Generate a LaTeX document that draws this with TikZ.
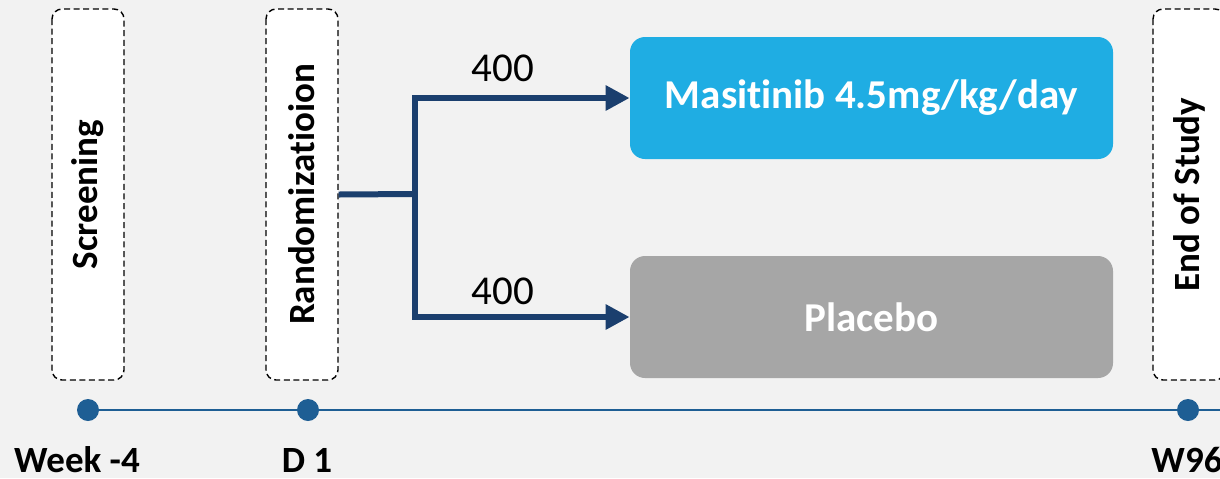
\documentclass[tikz,border=0pt]{standalone}
\usepackage{fontspec}
\setmainfont{Carlito}[Ligatures={NoCommon}]
\usetikzlibrary{arrows.meta}

\definecolor{bgcol}{HTML}{F2F2F2}
\definecolor{armblue}{HTML}{1FADE3}
\definecolor{armgray}{HTML}{A6A6A6}
\definecolor{linknavy}{HTML}{1B3F6E}
\definecolor{timeblue}{HTML}{1E5E94}

\tikzset{
  phasebox/.style={draw, dash pattern=on 3pt off 1.8pt, line width=0.7pt, fill=white,
    rounded corners=5pt, rotate=90, minimum width=185.5pt, minimum height=36pt,
    font=\fontsize{18.5}{20}\selectfont\bfseries},
  armbox/.style={rounded corners=7.5pt, minimum width=241.5pt, minimum height=61pt,
    text=white, font=\fontsize{20.5}{22}\selectfont\bfseries},
  tick/.style={circle, fill=timeblue, inner sep=0pt, minimum size=11pt},
  ticklabel/.style={inner sep=0pt, font=\fontsize{18.5}{20}\selectfont\bfseries},
  link/.style={linknavy, line width=3pt, -{Triangle[length=12pt,width=12pt]}}
}

\begin{document}
\begin{tikzpicture}[x=0.5pt,y=-0.5pt]
            % Draw frame
            \clip (0,0) rectangle (1220,478);
            \fill[bgcol] (0,0) rectangle (1220,478);

            % Draw phases
            \node[phasebox] (scr) at (88,194.5) {Screening};
            \node[phasebox] (rand) at (302,194.5) {Randomizatioion};
            \node[phasebox] (eos) at (1189,194.5) {End of Study};

            % Draw arms
            \node[armbox, fill=armblue] (masi) at (871.5,98) {Masitinib 4.5mg/kg/day};
            \node[armbox, fill=armgray] (plac) at (871.5,317) {Placebo};

            % Draw split
            \coordinate (split) at (415,194);
            \draw[linknavy, line width=3pt] (rand.south) -- (split);
            \draw[link] (split) |- (masi.west);
            \draw[link] (split) |- (plac.west);
            \node[font=\fontsize{20.5}{22}\selectfont] (n1) at (503,68) {400};
            \node[font=\fontsize{20.5}{22}\selectfont] (n2) at (503,291) {400};

            % Draw timeline
            \node[tick] (t0) at (88,410) {};
            \node[tick] (t1) at (308,410) {};
            \node[tick] (t2) at (1188,410) {};
            \coordinate (tend) at (1230,410);
            \draw[timeblue, line width=1pt] (t0) -- (t1) -- (t2) -- (tend);

            \node[ticklabel] (l0) at (77,460) {Week -4};
            \node[ticklabel] (l1) at (307,460) {D 1};
            \node[ticklabel] (l2) at (1187,460) {W96};
        \end{tikzpicture}
\end{document}
